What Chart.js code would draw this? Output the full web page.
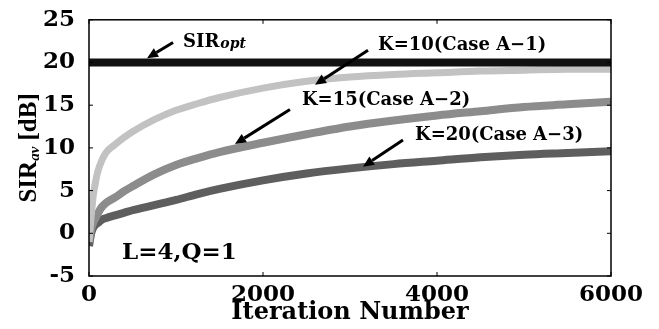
<!DOCTYPE html>
<html>
<head>
<meta charset="utf-8">
<script src="https://cdn.jsdelivr.net/npm/chart.js@4.4.0/dist/chart.umd.min.js"></script>
<style>
  html, body { margin: 0; padding: 0; background: #fff; }
</style>
</head>
<body>
<canvas id="chart" width="659" height="329"></canvas>
<script>
// data
const iterations = [0, 25, 50, 75, 100, 150, 200, 300, 400, 500, 750, 1000, 1250, 1500, 2000, 2500, 3000, 3500, 4000, 4500, 5000, 5500, 6000];
const sirOpt = [20, 20, 20, 20, 20, 20, 20, 20, 20, 20, 20, 20, 20, 20, 20, 20, 20, 20, 20, 20, 20, 20, 20];
const k10 = [-1, 2, 4.5, 6, 7.2, 8.6, 9.5, 10.4, 11.2, 11.9, 13.3, 14.4, 15.2, 15.9, 17, 17.8, 18.3, 18.6, 18.8, 19, 19.1, 19.2, 19.2];
const k15 = [-1, 0.5, 1.3, 1.8, 2.3, 3.1, 3.6, 4.2, 4.9, 5.5, 6.9, 8.0, 8.8, 9.5, 10.6, 11.6, 12.5, 13.2, 13.8, 14.3, 14.8, 15.1, 15.4];
const k20 = [-1.5, 0, 0.7, 1, 1.2, 1.6, 1.8, 2.1, 2.4, 2.7, 3.3, 3.9, 4.6, 5.2, 6.2, 7.0, 7.6, 8.1, 8.5, 8.9, 9.2, 9.4, 9.6];
const xTicks = [0, 2000, 4000, 6000];
const yTicks = [-5, 0, 5, 10, 15, 20, 25];

// labels with arrows, in data units
const notes = [
  { text: 'SIR', sub: 'opt', x: 1080, y: 22.4, from: [966, 22.35], to: [667, 20.5] },
  { text: 'K=10(Case A\u22121)', x: 3322, y: 22.0, from: [3207, 21.43], to: [2598, 17.39] },
  { text: 'K=15(Case A\u22122)', x: 2448, y: 15.55, from: [2310, 14.5], to: [1678, 10.46] },
  { text: 'K=20(Case A\u22123)', x: 3747, y: 11.5, from: [3609, 10.92], to: [3149, 7.8] },
  { text: 'L=4,Q=1', x: 379, y: -2.34, big: true }
];

const serif = 'DejaVu Serif';

function pts(arr) {
  return iterations.map((it, i) => ({ x: it, y: arr[i] }));
}

const extras = {
  id: 'extras',
  afterDraw(chart) {
    const { ctx, chartArea: a, scales: { x, y } } = chart;
    ctx.save();
    // frame
    ctx.strokeStyle = '#000';
    ctx.lineWidth = 1.5;
    ctx.strokeRect(a.left, a.top, a.right - a.left, a.bottom - a.top);
    // inner ticks
    ctx.lineWidth = 1;
    yTicks.forEach(v => {
      const py = y.getPixelForValue(v);
      ctx.beginPath();
      ctx.moveTo(a.left, py); ctx.lineTo(a.left + 4, py);
      ctx.moveTo(a.right, py); ctx.lineTo(a.right - 4, py);
      ctx.stroke();
    });
    xTicks.forEach(v => {
      const px = x.getPixelForValue(v);
      ctx.beginPath();
      ctx.moveTo(px, a.bottom); ctx.lineTo(px, a.bottom - 4);
      ctx.moveTo(px, a.top); ctx.lineTo(px, a.top + 4);
      ctx.stroke();
    });

    // annotations
    ctx.fillStyle = '#000';
    ctx.textBaseline = 'middle';
    ctx.textAlign = 'left';
    notes.forEach(n => {
      const tx = x.getPixelForValue(n.x);
      const ty = y.getPixelForValue(n.y);
      ctx.font = 'bold ' + (n.big ? 23 : 18) + 'px "' + serif + '"';
      ctx.fillText(n.text, tx, ty);
      if (n.sub) {
        const w = ctx.measureText(n.text).width;
        ctx.font = 'italic bold 14px "' + serif + '"';
        ctx.fillText(n.sub, tx + w + 1, ty + 2);
      }
      if (n.from) {
        const x1 = x.getPixelForValue(n.from[0]), y1 = y.getPixelForValue(n.from[1]);
        const x2 = x.getPixelForValue(n.to[0]), y2 = y.getPixelForValue(n.to[1]);
        const ang = Math.atan2(y2 - y1, x2 - x1);
        const hl = 11, hw = 5;
        const bx = x2 - hl * Math.cos(ang), by = y2 - hl * Math.sin(ang);
        ctx.lineWidth = 3;
        ctx.beginPath();
        ctx.moveTo(x1, y1); ctx.lineTo(bx, by);
        ctx.stroke();
        ctx.beginPath();
        ctx.moveTo(x2, y2);
        ctx.lineTo(bx + hw * Math.sin(ang), by - hw * Math.cos(ang));
        ctx.lineTo(bx - hw * Math.sin(ang), by + hw * Math.cos(ang));
        ctx.closePath();
        ctx.fill();
      }
    });

    // y axis title with subscript
    ctx.translate(30, (a.top + a.bottom) / 2);
    ctx.rotate(-Math.PI / 2);
    ctx.textBaseline = 'middle';
    const f1 = 'bold 25px "Liberation Serif"';
    const f2 = 'italic bold 15px "Liberation Serif"';
    ctx.font = f1;
    const w1 = ctx.measureText('SIR').width;
    const w3 = ctx.measureText(' [dB]').width;
    ctx.font = f2;
    const w2 = ctx.measureText('av').width;
    const sx = -(w1 + w2 + w3) / 2;
    ctx.font = f1;
    ctx.fillText('SIR', sx, 0);
    ctx.font = f2;
    ctx.fillText('av', sx + w1, 5);
    ctx.font = f1;
    ctx.fillText(' [dB]', sx + w1 + w2, 0);
    ctx.restore();
  }
};

new Chart(document.getElementById('chart'), {
  type: 'line',
  data: {
    datasets: [
      { label: 'SIRopt', data: pts(sirOpt), borderColor: '#111', borderWidth: 8 },
      { label: 'K=10', data: pts(k10), borderColor: '#c2c2c2', borderWidth: 7 },
      { label: 'K=15', data: pts(k15), borderColor: '#8c8c8c', borderWidth: 8 },
      { label: 'K=20', data: pts(k20), borderColor: '#5e5e5e', borderWidth: 8 }
    ]
  },
  options: {
    responsive: false,
    animation: false,
    devicePixelRatio: 1,
    layout: { padding: { left: 0, right: 48, top: 16, bottom: 0 } },
    elements: {
      point: { radius: 0 },
      line: { tension: 0.4, cubicInterpolationMode: 'monotone', borderCapStyle: 'butt' }
    },
    plugins: { legend: { display: false }, tooltip: { enabled: false } },
    scales: {
      x: {
        type: 'linear',
        min: 0,
        max: 6000,
        afterBuildTicks: s => { s.ticks = xTicks.map(v => ({ value: v })); },
        afterFit: s => { s.height = 53; },
        grid: { display: false },
        border: { display: false },
        ticks: {
          color: '#000',
          padding: 0,
          maxRotation: 0,
          callback: v => String(v),
          font: { family: serif, weight: 'bold', size: 23, lineHeight: 1 }
        },
        title: {
          display: true,
          text: 'Iteration Number',
          color: '#000',
          padding: { top: 0, bottom: 4 },
          font: { family: serif, weight: 'bold', size: 24, lineHeight: 1 }
        }
      },
      y: {
        min: -5,
        max: 25,
        afterBuildTicks: s => { s.ticks = yTicks.map(v => ({ value: v })); },
        afterFit: s => { s.width = 89; },
        grid: { display: false },
        border: { display: false },
        ticks: {
          color: '#000',
          padding: 6,
          callback: v => String(v),
          font: { family: serif, weight: 'bold', size: 23 }
        }
      }
    }
  },
  plugins: [extras]
});
</script>
</body>
</html>
